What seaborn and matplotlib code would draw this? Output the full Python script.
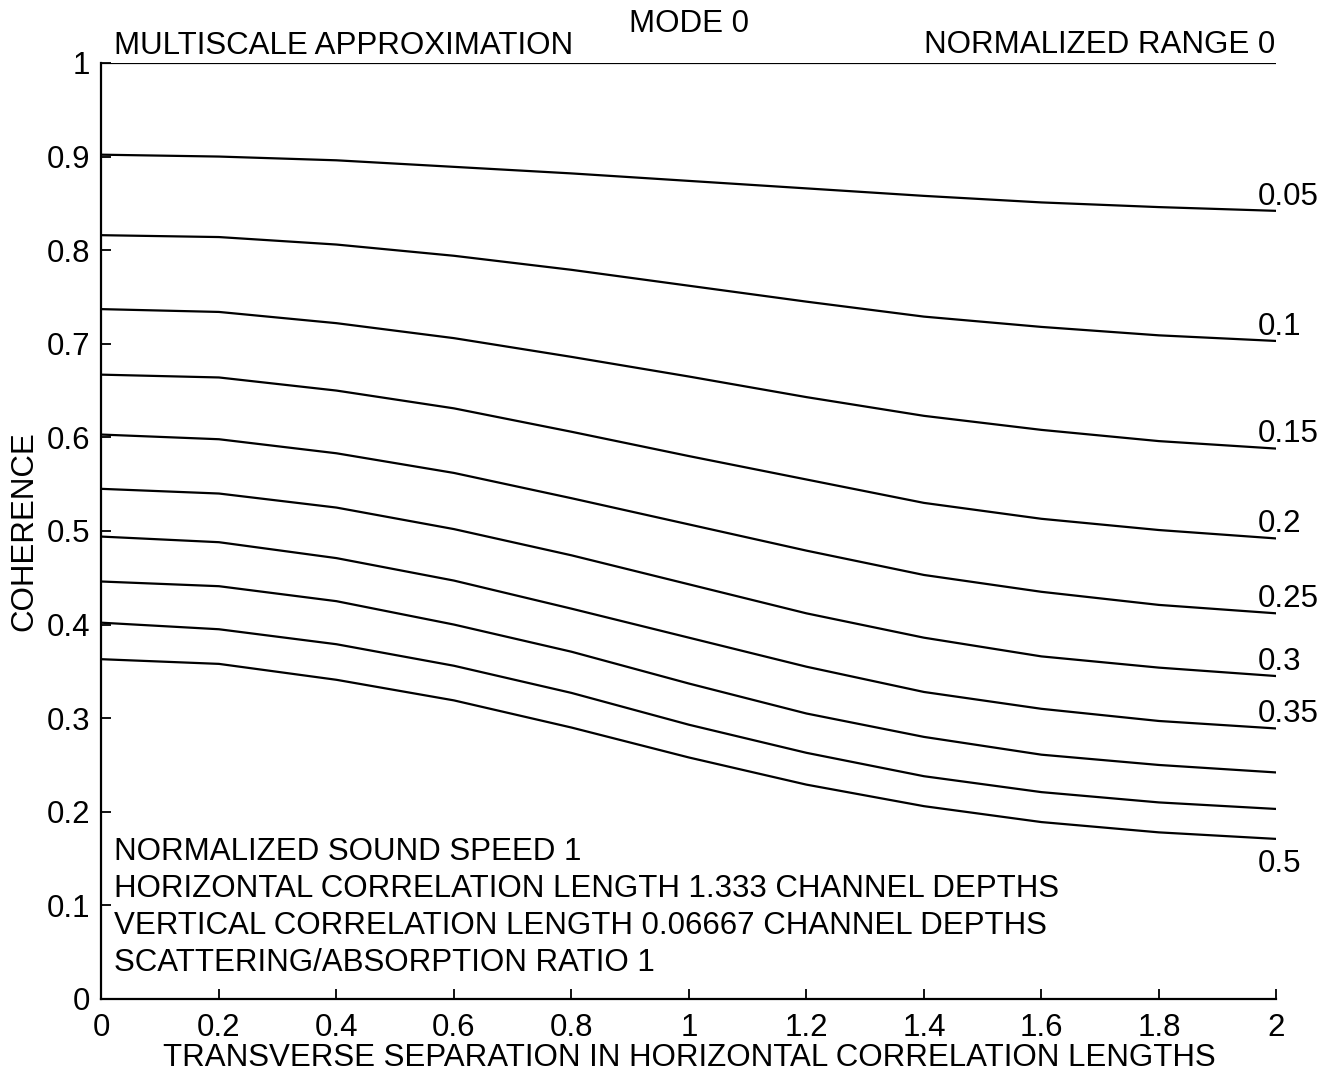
import numpy as np
import pandas as pd
import matplotlib
matplotlib.use("Agg")
import matplotlib.pyplot as plt
import seaborn as sns

# Transverse separation (horizontal correlation lengths)
separation = [0.0, 0.2, 0.4, 0.6, 0.8, 1.0, 1.2, 1.4, 1.6, 1.8, 2.0]

# Coherence for each normalized range
coh_r000 = [1.0, 1.0, 1.0, 1.0, 1.0, 1.0, 1.0, 1.0, 1.0, 1.0, 1.0]
coh_r005 = [0.902, 0.900, 0.896, 0.889, 0.882, 0.874, 0.866, 0.858, 0.851, 0.846, 0.842]
coh_r010 = [0.816, 0.814, 0.806, 0.794, 0.779, 0.762, 0.745, 0.729, 0.718, 0.709, 0.703]
coh_r015 = [0.737, 0.734, 0.722, 0.706, 0.686, 0.665, 0.643, 0.623, 0.608, 0.596, 0.588]
coh_r020 = [0.667, 0.664, 0.650, 0.631, 0.606, 0.580, 0.555, 0.530, 0.513, 0.501, 0.492]
coh_r025 = [0.603, 0.598, 0.583, 0.562, 0.535, 0.507, 0.479, 0.453, 0.435, 0.421, 0.412]
coh_r030 = [0.545, 0.540, 0.525, 0.502, 0.474, 0.443, 0.412, 0.386, 0.366, 0.354, 0.345]
coh_r035 = [0.494, 0.488, 0.471, 0.447, 0.417, 0.386, 0.355, 0.328, 0.310, 0.297, 0.289]
coh_r040 = [0.446, 0.441, 0.425, 0.400, 0.371, 0.337, 0.305, 0.280, 0.261, 0.250, 0.242]
coh_r045 = [0.402, 0.395, 0.379, 0.356, 0.327, 0.293, 0.263, 0.238, 0.221, 0.210, 0.203]
coh_r050 = [0.363, 0.358, 0.341, 0.319, 0.290, 0.258, 0.229, 0.206, 0.189, 0.178, 0.171]

ranges = [0.0, 0.05, 0.1, 0.15, 0.2, 0.25, 0.3, 0.35, 0.4, 0.45, 0.5]
coherence = [coh_r000, coh_r005, coh_r010, coh_r015, coh_r020, coh_r025,
             coh_r030, coh_r035, coh_r040, coh_r045, coh_r050]

# Curve-end labels (0.4 and 0.45 are left unlabeled)
range_labels = {0.05: "0.05", 0.1: "0.1", 0.15: "0.15", 0.2: "0.2",
                0.25: "0.25", 0.3: "0.3", 0.35: "0.35", 0.5: "0.5"}

x_ticks = [0, 0.2, 0.4, 0.6, 0.8, 1, 1.2, 1.4, 1.6, 1.8, 2]
x_ticklabels = ["0", "0.2", "0.4", "0.6", "0.8", "1", "1.2", "1.4", "1.6", "1.8", "2"]
y_ticks = [0, 0.1, 0.2, 0.3, 0.4, 0.5, 0.6, 0.7, 0.8, 0.9, 1]
y_ticklabels = ["0", "0.1", "0.2", "0.3", "0.4", "0.5", "0.6", "0.7", "0.8", "0.9", "1"]

params_text = [
    "NORMALIZED SOUND SPEED 1",
    "HORIZONTAL CORRELATION LENGTH 1.333 CHANNEL DEPTHS",
    "VERTICAL CORRELATION LENGTH 0.06667 CHANNEL DEPTHS",
    "SCATTERING/ABSORPTION RATIO 1",
]

rows = []
for r, vals in zip(ranges, coherence):
    for s, c in zip(separation, vals):
        rows.append({"separation": s, "coherence": c, "range": r})
df = pd.DataFrame(rows)

sns.set_theme(style="ticks")
plt.rcParams["font.family"] = ["Liberation Sans", "DejaVu Sans"]
plt.rcParams["text.color"] = "black"
plt.rcParams["axes.labelcolor"] = "black"
plt.rcParams["xtick.color"] = "black"
plt.rcParams["ytick.color"] = "black"
plt.rcParams["axes.edgecolor"] = "black"
FS = 22.5

fig = plt.figure(figsize=(13.35, 10.78), dpi=100)
ax = fig.add_axes([0.0760, 0.0733, 0.8801, 0.8683])

sns.lineplot(data=df, x="separation", y="coherence", hue="range",
             palette=["black"] * len(ranges), legend=False,
             linewidth=1.6, ax=ax)

ax.set_xlim(0, 2)
ax.set_ylim(0, 1)
ax.set_xticks(x_ticks)
ax.set_xticklabels(x_ticklabels)
ax.set_yticks(y_ticks)
ax.set_yticklabels(y_ticklabels)
ax.tick_params(axis="both", direction="in", length=7, width=1.3,
               labelsize=FS, colors="black")
ax.tick_params(axis="x", pad=10)
ax.tick_params(axis="y", pad=8)
for side in ("top", "right"):
    ax.spines[side].set_visible(False)
for side in ("left", "bottom"):
    ax.spines[side].set_linewidth(1.6)
    ax.spines[side].set_color("black")

ax.set_xlabel("TRANSVERSE SEPARATION IN HORIZONTAL CORRELATION LENGTHS",
              fontsize=FS, color="black")
ax.set_ylabel("COHERENCE", fontsize=FS, color="black")
ax.xaxis.set_label_coords(0.5, -0.047)
ax.yaxis.set_label_coords(-0.053, 0.5)

ax.set_title("MODE 0", fontsize=FS, color="black", pad=22)
ax.annotate("MULTISCALE APPROXIMATION", xy=(0.011, 1.0), xytext=(0, 6.5),
            xycoords="axes fraction", textcoords="offset points",
            fontsize=FS, ha="left", va="baseline", color="black",
            annotation_clip=False)
ax.annotate("NORMALIZED RANGE 0", xy=(2.0, coh_r000[-1]), xytext=(-1, 7),
            textcoords="offset points", fontsize=FS, ha="right",
            va="baseline", color="black", annotation_clip=False)

# Range labels at the right end of each curve
for r, vals in zip(ranges, coherence):
    if r not in range_labels:
        continue
    if r == 0.5:
        ax.annotate(range_labels[r], xy=(separation[-1], vals[-1]),
                    xytext=(-13.5, -7), textcoords="offset points",
                    fontsize=FS, ha="left", va="top", color="black",
                    annotation_clip=False)
    else:
        ax.annotate(range_labels[r], xy=(separation[-1], vals[-1]),
                    xytext=(-13.5, 4.5), textcoords="offset points",
                    fontsize=FS, ha="left", va="baseline", color="black",
                    annotation_clip=False)

# Parameter block in the lower-left corner
for i, line in enumerate(params_text):
    ax.text(0.011, 0.148 - i * 0.0395, line, fontsize=FS, ha="left",
            va="baseline", color="black", transform=ax.transAxes)

fig.savefig("out.png", dpi=100, facecolor="white")
